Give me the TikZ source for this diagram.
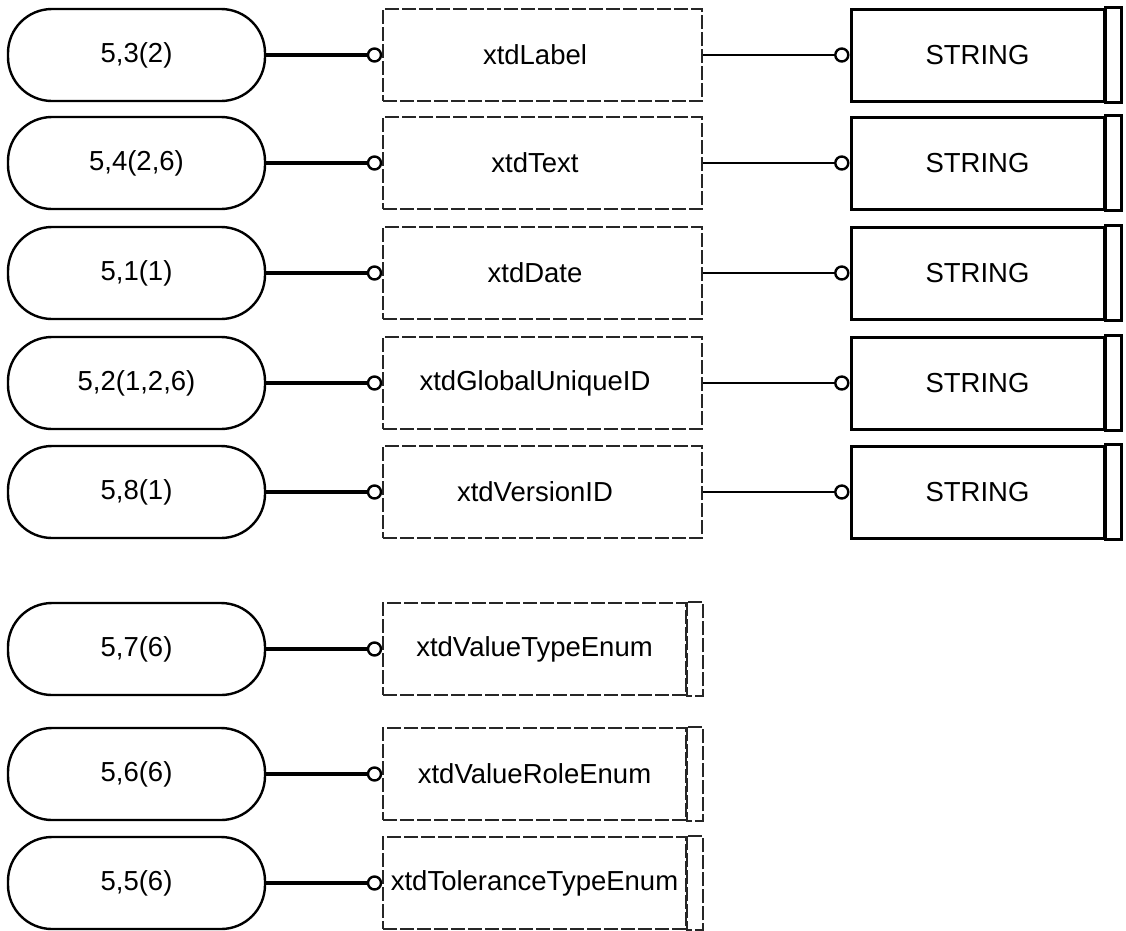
\documentclass[tikz,border=0pt]{standalone}
\usepackage{fontspec}
\setmainfont{Liberation Sans}
\usetikzlibrary{positioning}

\begin{document}
\begin{tikzpicture}[x=1pt,y=-1pt,
    every node/.style={font=\fontsize{27.5}{32}\selectfont},
    pill/.style={draw, line width=2.4pt, rounded corners=44pt, minimum width=257pt, minimum height=92pt, inner sep=0pt},
    dashline/.style={draw=black!85, line width=1.6pt, dash pattern=on 14pt off 3pt},
    attrbox/.style={dashline, minimum width=319pt, minimum height=92pt, inner sep=0pt},
    enumbox/.style={attrbox, minimum width=303pt},
    solidline/.style={draw, line width=3pt},
    strbox/.style={solidline, minimum width=253pt, minimum height=92pt, inner sep=0pt},
    ring/.style={draw, circle, fill=white, line width=2.4pt, minimum size=13pt, inner sep=0pt},
    link/.style={line width=4.5pt},
    thinlink/.style={line width=2pt}]
    \useasboundingbox (0,0) rectangle (1126,930);

    \node[pill] (p1) at (136.5,55) {5,3(2)};
    \node[pill] (p2) at (136.5,163) {5,4(2,6)};
    \node[pill] (p3) at (136.5,273) {5,1(1)};
    \node[pill] (p4) at (136.5,383) {5,2(1,2,6)};
    \node[pill] (p5) at (136.5,492) {5,8(1)};
    \node[pill] (p6) at (136.5,649) {5,7(6)};
    \node[pill] (p7) at (136.5,774) {5,6(6)};
    \node[pill] (p8) at (136.5,883) {5,5(6)};

    \node[attrbox, label={[xshift=-7.5pt]center:xtdLabel}] (a1) at (542.5,55) {};
    \node[attrbox, label={[xshift=-7.5pt]center:xtdText}] (a2) at (542.5,163) {};
    \node[attrbox, label={[xshift=-7.5pt]center:xtdDate}] (a3) at (542.5,273) {};
    \node[attrbox, label={[xshift=-7.5pt]center:xtdGlobalUniqueID}] (a4) at (542.5,383) {};
    \node[attrbox, label={[xshift=-7.5pt]center:xtdVersionID}] (a5) at (542.5,492) {};
    \node[enumbox] (a6) at (534.5,649) {xtdValueTypeEnum};
    \node[enumbox] (a7) at (534.5,774) {xtdValueRoleEnum};
    \node[enumbox] (a8) at (534.5,883) {xtdToleranceTypeEnum};
    \draw[dashline] (a6.north east) rectangle ([xshift=16pt]a6.south east);
    \draw[dashline] (a7.north east) rectangle ([xshift=16pt]a7.south east);
    \draw[dashline] (a8.north east) rectangle ([xshift=16pt]a8.south east);

    \node[strbox] (s1) at (977.5,55) {STRING};
    \node[strbox] (s2) at (977.5,163) {STRING};
    \node[strbox] (s3) at (977.5,273) {STRING};
    \node[strbox] (s4) at (977.5,383) {STRING};
    \node[strbox] (s5) at (977.5,492) {STRING};
    \draw[solidline] (s1.north east) rectangle ([xshift=16pt]s1.south east);
    \draw[solidline] (s2.north east) rectangle ([xshift=16pt]s2.south east);
    \draw[solidline] (s3.north east) rectangle ([xshift=16pt]s3.south east);
    \draw[solidline] (s4.north east) rectangle ([xshift=16pt]s4.south east);
    \draw[solidline] (s5.north east) rectangle ([xshift=16pt]s5.south east);

    % rings at the boxes
    \node[ring, left=0pt of a1] (r1) {};
    \node[ring, left=0pt of a2] (r2) {};
    \node[ring, left=0pt of a3] (r3) {};
    \node[ring, left=0pt of a4] (r4) {};
    \node[ring, left=0pt of a5] (r5) {};
    \node[ring, left=0pt of a6] (r6) {};
    \node[ring, left=0pt of a7] (r7) {};
    \node[ring, left=0pt of a8] (r8) {};
    \node[ring, left=0pt of s1] (q1) {};
    \node[ring, left=0pt of s2] (q2) {};
    \node[ring, left=0pt of s3] (q3) {};
    \node[ring, left=0pt of s4] (q4) {};
    \node[ring, left=0pt of s5] (q5) {};

    \draw[link] (p1) -- (r1);
    \draw[link] (p2) -- (r2);
    \draw[link] (p3) -- (r3);
    \draw[link] (p4) -- (r4);
    \draw[link] (p5) -- (r5);
    \draw[link] (p6) -- (r6);
    \draw[link] (p7) -- (r7);
    \draw[link] (p8) -- (r8);
    \draw[thinlink] (a1) -- (q1);
    \draw[thinlink] (a2) -- (q2);
    \draw[thinlink] (a3) -- (q3);
    \draw[thinlink] (a4) -- (q4);
    \draw[thinlink] (a5) -- (q5);
\end{tikzpicture}
\end{document}
